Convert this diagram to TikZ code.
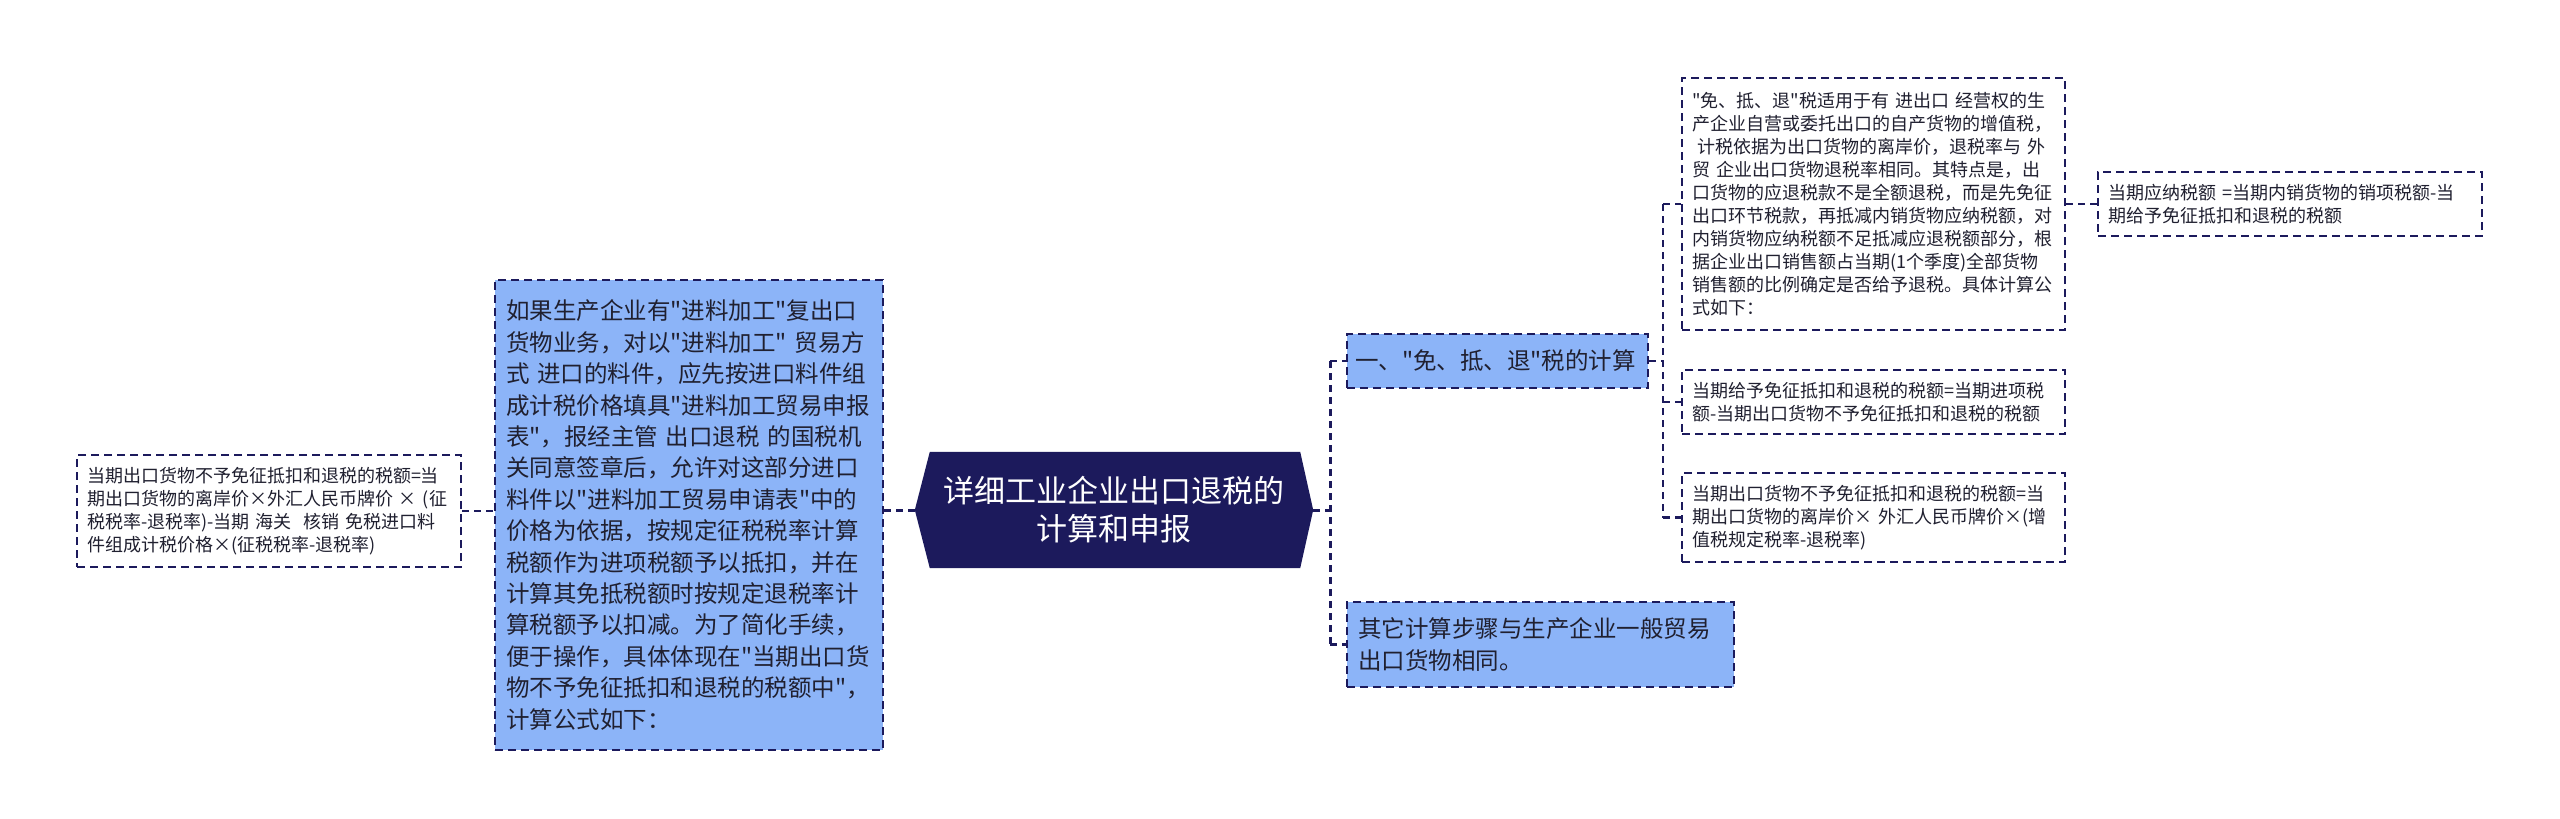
\documentclass[tikz,border=0pt]{standalone}
\usepackage{fontspec}
\newfontfamily\cjk{Noto Sans CJK SC}
\usetikzlibrary{backgrounds}
\definecolor{navy}{HTML}{1C1A5C}
\definecolor{lblue}{HTML}{8CB4F8}
\definecolor{txt}{HTML}{202030}
\tikzset{
  box/.style={draw=navy, line width=2pt, dash pattern=on 8pt off 5pt, rectangle,
    inner xsep=10pt, inner ysep=0pt, align=left, text=txt, anchor=center},
  whitebox/.style={box, fill=white, font=\cjk\fontsize{18}{23}\selectfont},
  bluebox/.style={box, fill=lblue, font=\cjk\fontsize{23.5}{31.4}\selectfont, inner xsep=11pt},
  conn/.style={draw=navy, line width=2.2pt, dash pattern=on 7pt off 5pt},
  rootconn/.style={conn, line width=3pt},
  roottext/.style={font=\cjk\fontsize{31}{38}\selectfont, text=white, align=center,
    minimum width=398pt, minimum height=116pt, inner sep=0pt},
}
\begin{document}
\begin{tikzpicture}[x=1pt,y=-1pt]
\begin{pgfonlayer}{background}
\path[use as bounding box, fill=white] (0,0) rectangle (2560,819);
\end{pgfonlayer}

% root
\node[roottext] (root) at (1114,510) {详细工业企业出口退税的\\计算和申报};
\begin{pgfonlayer}{background}
\fill[navy] (root.west) -- ([xshift=15pt]root.north west) -- ([xshift=-13pt]root.north east)
  -- (root.east) -- ([xshift=-13pt]root.south east) -- ([xshift=15pt]root.south west) -- cycle;
\end{pgfonlayer}

% left side
\node[bluebox, minimum width=388pt, minimum height=470pt, text width=366pt] (blueL) at (689,515)
{如果生产企业有"进料加工"复出口\\货物业务，对以"进料加工" 贸易方\\式 进口的料件，应先按进口料件组\\成计税价格填具"进料加工贸易申报\\表"，报经主管 出口退税 的国税机\\关同意签章后，允许对这部分进口\\料件以"进料加工贸易申请表"中的\\价格为依据，按规定征税税率计算\\税额作为进项税额予以抵扣，并在\\计算其免抵税额时按规定退税率计\\算税额予以扣减。为了简化手续，\\便于操作，具体体现在"当期出口货\\物不予免征抵扣和退税的税额中"，\\计算公式如下：};

\node[whitebox, minimum width=384pt, minimum height=112pt, text width=364pt] (leftF) at (269,511)
{当期出口货物不予免征抵扣和退税的税额=当\\期出口货物的离岸价×外汇人民币牌价 × (征\\税税率-退税率)-当期 海关\ \ 核销 免税进口料\\件组成计税价格×(征税税率-退税率)};

% right side level 1
\node[bluebox, minimum width=301pt, minimum height=54pt, text width=285pt, inner xsep=8pt] (calc) at (1497.5,361)
{一、"免、抵、退"税的计算};
\node[bluebox, minimum width=387pt, minimum height=85pt, text width=365pt] (other) at (1540.5,644.5)
{其它计算步骤与生产企业一般贸易\\出口货物相同。};

% right side level 2
\node[whitebox, minimum width=383pt, minimum height=252pt, text width=363pt] (c1) at (1873.5,204)
{"免、抵、退"税适用于有 进出口 经营权的生\\产企业自营或委托出口的自产货物的增值税，\\\hspace*{5pt}计税依据为出口货物的离岸价，退税率与 外\\贸 企业出口货物退税率相同。其特点是，出\\口货物的应退税款不是全额退税，而是先免征\\出口环节税款，再抵减内销货物应纳税额，对\\内销货物应纳税额不足抵减应退税额部分，根\\据企业出口销售额占当期(1个季度)全部货物\\销售额的比例确定是否给予退税。具体计算公\\式如下：};
\node[whitebox, minimum width=383pt, minimum height=64pt, text width=363pt] (c2) at (1873.5,402)
{当期给予免征抵扣和退税的税额=当期进项税\\额-当期出口货物不予免征抵扣和退税的税额};
\node[whitebox, minimum width=383pt, minimum height=89pt, text width=363pt] (c3) at (1873.5,517.5)
{当期出口货物不予免征抵扣和退税的税额=当\\期出口货物的离岸价× 外汇人民币牌价×(增\\值税规定税率-退税率)};

% level 3
\node[whitebox, minimum width=384pt, minimum height=64pt, text width=364pt] (c11) at (2290,204)
{当期应纳税额 =当期内销货物的销项税额-当\\期给予免征抵扣和退税的税额};

% connectors
\coordinate (s0) at (1330,0);
\coordinate (s1) at (1663,0);
\draw[rootconn] (root.west) -- (root.west -| blueL.east);
\draw[conn] (leftF.east) -- (leftF.east -| blueL.west);
\draw[rootconn] (root.east) -- (root.east -| s0);
\draw[rootconn] (calc.west -| s0) -- (other.west -| s0);
\draw[conn] (calc.west -| s0) -- (calc.west);
\draw[conn] (other.west -| s0) -- (other.west);
\draw[conn] (calc.east) -- (calc.east -| s1);
\draw[conn] (c1.west -| s1) -- (c3.west -| s1);
\draw[conn] (c1.west -| s1) -- (c1.west);
\draw[conn] (c2.west -| s1) -- (c2.west);
\draw[conn] (c3.west -| s1) -- (c3.west);
\draw[conn] (c1.east) -- (c11.west);
\end{tikzpicture}
\end{document}
